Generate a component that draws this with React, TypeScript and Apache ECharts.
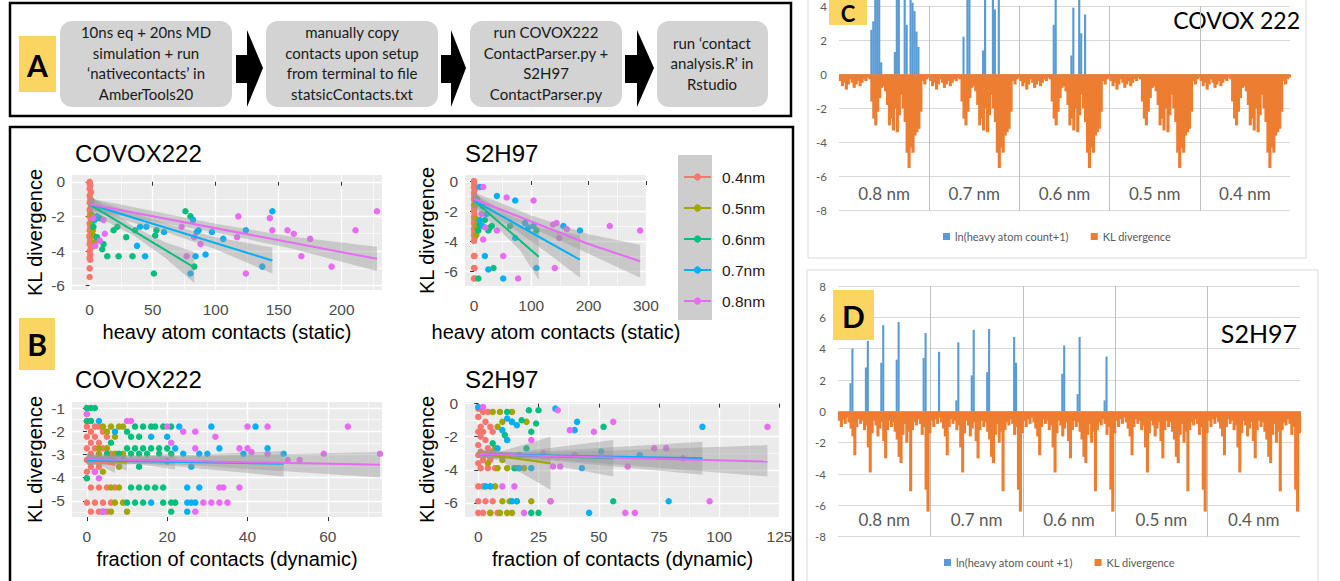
import { useEffect, useRef } from 'react';
import * as echarts from 'echarts';

// ---------------- Panel B data (ggplot scatter + lm fits) ----------------
const GROUPS = ['0.4nm', '0.5nm', '0.6nm', '0.7nm', '0.8nm'];
const GROUP_COLORS = ['#F8766D', '#A3A500', '#00BF7D', '#00B0F6', '#E76BF3'];

// COVOX222, heavy atom contacts (static) vs KL divergence
const cs04 = [[0,0],[0.5,-0.2],[0,-0.4],[1,-0.6],[0,-0.8],[0.5,-1.0],[0,-1.2],[1,-1.4],[0,-1.6],[0.5,-1.8],[0,-2.0],[1,-2.2],[0,-2.4],[0.5,-2.6],[0,-2.8],[1,-3.0],[0,-3.2],[0.5,-3.4],[0,-3.6],[1,-3.8],[0,-4.0],[0.5,-4.2],[0,-4.4],[0.5,-4.5],[0,-5.0],[0,-5.5],[1.5,-1.1],[1.5,-2.9],[0,-0.1],[0,-3.1]];
const cs05 = [[2,-2.4],[3,-3.1],[1.5,-1.9],[4,-3.5],[2.5,-2.8]];
const cs06 = [[5.8,-3.2],[8,-2.1],[11,-3.6],[14,-4.3],[19,-2.8],[22,-2.6],[23,-4.3],[29,-3.2],[34,-4.3],[36,-2.8],[51,-5.3],[52,-3.1],[53,-2.8],[76,-1.7],[80,-2.0],[83,-4.9],[3,-2.6],[10,-3.9]];
const cs07 = [[5.8,-2.0],[4,-2.2],[37.6,-3.7],[40,-2.6],[44,-4.3],[45,-2.6],[59,-2.9],[84,-4.3],[80,-5.3],[85,-2.9],[86.5,-2.8],[92,-4.2],[97,-2.9],[106,-3.3],[124,-2.8],[137,-4.9],[145,-1.7],[82,-2.2]];
const cs08 = [[3,-2.1],[4.5,-3.7],[12,-3.0],[11,-2.2],[8,-3.4],[73,-2.6],[77,-4.3],[83,-3.2],[88,-3.6],[118,-2.0],[117,-3.2],[124,-5.3],[143,-2.1],[145,-2.8],[157,-2.8],[162,-3.0],[168,-4.3],[175,-3.3],[192,-4.9],[211,-2.8],[228,-1.7]];
const csFit06 = [[0,-1.3],[83,-4.95]];
const csFit07 = [[0,-1.3],[145,-4.55]];
const csFit08 = [[0,-1.3],[228,-4.45]];
// confidence bands: [x, lower, upper]
const csBand06 = [[0,-1.8,-0.8],[35,-3.1,-2.6],[60,-4.4,-3.5],[83,-5.85,-4.05]];
const csBand07 = [[0,-1.65,-0.95],[60,-2.9,-2.4],[100,-3.9,-3.2],[145,-5.3,-3.8]];
const csBand08 = [[0,-1.65,-0.95],[100,-2.93,-2.43],[160,-3.86,-3.16],[228,-5.15,-3.75]];

// S2H97, static
const ss04 = [[0,0],[0.5,-0.2],[0,-0.4],[1,-0.6],[0,-0.8],[0.5,-1.0],[0,-1.2],[1,-1.4],[0,-1.6],[0.5,-1.8],[0,-2.0],[1,-2.2],[0,-2.4],[0.5,-2.6],[0,-2.8],[1,-3.0],[0,-3.2],[0.5,-3.4],[0,-3.6],[1,-3.8],[0,-4.0],[0,-5.0],[1,-5.0],[0,-5.8],[1,-5.8],[0,-6.5],[1,-6.5]];
const ss05 = [[3,-2.5],[5,-3.1],[2,-1.6],[4,-3.6],[6,-2.9]];
const ss06 = [[7.6,-3.3],[19,-2.6],[25,-3.3],[31,-3.0],[34,-5.8],[7.6,-6.5],[63,-3.0],[109,-3.3],[16,-1.7],[10,-2.9],[28,-3.1],[5,-1.2]];
const ss07 = [[10,-0.4],[40,-1.0],[72,-1.3],[19,-5.0],[25,-5.9],[51,-6.5],[72,-3.8],[89,-2.8],[104,-3.0],[109,-5.8],[156,-3.0],[185,-3.3],[10,-2.6],[22,-2.2],[15,-3.0],[95,-3.1]];
const ss08 = [[16,-0.4],[57,-1.1],[104,-1.3],[16,-3.9],[51,-5.0],[77,-6.5],[141,-5.8],[138,-2.9],[144,-2.8],[149,-3.8],[162,-3.2],[237,-3.0],[290,-3.3],[13,-2.2],[40,-3.3],[20,-3.1]];
const ssFit06 = [[0,-1.3],[113,-5.05]];
const ssFit07 = [[0,-1.3],[185,-5.25]];
const ssFit08 = [[0,-1.2],[100,-2.7],[200,-4.2],[290,-5.35]];
const ssBand06 = [[0,-1.9,-0.7],[40,-3.1,-2.2],[80,-4.6,-3.0],[113,-6.6,-3.5]];
const ssBand07 = [[0,-1.8,-0.8],[60,-2.93,-2.23],[120,-4.56,-3.16],[185,-6.45,-3.6]];
const ssBand08 = [[0,-1.65,-0.75],[100,-3.1,-2.3],[200,-4.85,-3.55],[290,-6.45,-4.25]];

// COVOX222, fraction of contacts (dynamic)
const cd04 = [[0,-1.56],[1,-1.56],[2,-1.8],[0,-1.8],[3,-1.8],[1,-2.02],[4,-2.02],[0,-2.24],[2,-2.24],[5,-2.24],[1,-2.5],[3,-2.5],[0,-2.74],[2,-2.74],[4,-2.74],[1,-2.97],[3,-2.97],[6,-2.97],[0,-3.24],[2,-3.24],[4,-3.24],[1,-3.53],[3,-3.53],[0,-3.75],[2,-3.75],[0,-4.03],[1,-4.43],[3,-4.43],[5,-4.43],[7,-4.43],[0,-5.08],[2,-5.08],[4,-5.08],[6,-5.08],[1,-5.47],[3,-5.47],[5,-5.47],[0,-1.26],[0,-1.0]];
const cd05 = [[4,-1.8],[6,-1.8],[8,-1.8],[9,-1.8],[5,-2.02],[7,-2.24],[3,-2.74],[5,-2.74],[7,-2.97],[9,-2.97],[6,-3.24],[8,-3.53],[4,-3.75],[6,-4.43],[8,-4.43],[7,-5.08],[9,-5.08],[6,-5.47],[10,-5.47],[3,-3.0]];
const cd06 = [[0,-1.0],[1,-1.0],[2,-1.0],[0,-1.56],[1,-1.56],[12,-1.8],[14,-1.8],[16,-1.8],[17,-1.8],[19,-1.8],[21,-1.8],[10,-2.02],[11,-2.24],[13,-2.24],[6,-2.5],[10,-2.74],[12,-2.74],[14,-2.74],[16,-2.74],[18,-2.74],[20,-2.74],[5,-2.97],[8,-2.97],[11,-2.97],[13,-2.97],[15,-2.97],[18,-2.97],[21,-2.97],[9,-3.24],[13,-3.53],[0,-4.03],[11,-4.43],[13,-4.43],[15,-4.43],[17,-4.43],[19,-4.43],[10,-5.08],[12,-5.08],[14,-5.08],[19,-5.08],[21,-5.08],[21,-5.47],[22,-5.08]];
const cd07 = [[3,-1.56],[23,-1.8],[31,-1.8],[42,-1.8],[7,-2.02],[16,-2.24],[20,-2.24],[22,-2.74],[24,-2.97],[28,-2.97],[30,-2.97],[33,-2.74],[39,-2.97],[49,-2.97],[45,-2.74],[20,-3.3],[26,-3.53],[25,-4.43],[28,-4.43],[16,-5.08],[25,-5.08],[26,-5.08],[27,-5.08],[25,-5.47],[4,-5.47]];
const cd08 = [[0,-1.26],[10,-1.56],[11,-1.56],[40,-1.8],[45,-1.8],[65,-1.8],[20,-1.8],[24,-2.02],[27,-2.02],[32,-2.24],[21,-2.5],[27,-2.74],[38,-2.74],[40,-2.74],[45,-2.97],[59,-2.97],[73,-2.97],[50,-3.24],[53,-3.24],[41,-2.9],[33,-4.43],[34,-4.43],[38,-4.43],[29,-5.08],[31,-5.08],[33,-5.08],[35,-5.08],[27,-5.47],[2,-3.75],[3,-4.03],[4,-5.47]];
const cdFit04 = [[0,-3.25],[7,-3.45]];
const cdFit05 = [[0,-3.2],[10,-3.35]];
const cdFit06 = [[0,-3.2],[22,-3.3]];
const cdFit07 = [[0,-3.25],[49,-3.4]];
const cdFit08 = [[0,-3.2],[73,-3.45]];
const cdBand04 = [[0,-3.45,-3.05],[3,-3.45,-3.15],[7,-3.8,-3.1]];
const cdBand05 = [[0,-3.4,-3.0],[5,-3.4,-3.1],[10,-3.7,-3.0]];
const cdBand06 = [[0,-3.4,-3.0],[10,-3.35,-3.1],[22,-3.65,-2.95]];
const cdBand07 = [[0,-3.45,-3.05],[15,-3.4,-3.1],[49,-3.95,-2.85]];
const cdBand08 = [[0,-3.45,-2.95],[20,-3.4,-3.1],[73,-4.0,-2.9]];

// S2H97, dynamic
const sd04 = [[0,-0.3],[1,-0.3],[2,-0.5],[4,-0.5],[0,-0.8],[3,-1.1],[1,-1.4],[5,-1.4],[0,-1.7],[2,-1.7],[6,-1.7],[1,-2.0],[3,-2.2],[0,-2.5],[4,-2.7],[1,-2.9],[6,-2.9],[0,-3.1],[3,-3.1],[2,-3.4],[5,-3.4],[0,-3.6],[1,-3.9],[4,-3.9],[7,-3.9],[0,-5.0],[2,-5.0],[0,-5.9],[3,-5.9],[6,-5.9],[0,-6.6],[2,-6.6],[5,-6.6],[8,-6.6]];
const sd05 = [[6,-0.5],[9,-0.5],[14,-0.5],[10,-1.1],[20,-1.1],[8,-1.4],[12,-2.2],[7,-2.7],[9,-3.1],[10,-3.4],[8,-3.9],[12,-3.9],[16,-3.9],[19,-3.9],[10,-5.9],[13,-5.9],[16,-5.9],[22,-5.9],[30,-5.9],[5,-6.6],[9,-6.6],[12,-6.6],[14,-6.6],[7,-5.0],[4,-3.6]];
const sd06 = [[12,-0.5],[21,-0.4],[25,-0.4],[18,-1.0],[24,-1.2],[22,-1.7],[14,-1.1],[52,-1.4],[17,-3.1],[6,-2.4],[15,-3.9],[56,-5.9],[22,-6.6],[25,-6.6],[20,-2.7],[11,-1.9]];
const sd07 = [[0,-0.2],[32,-0.3],[12,-0.9],[14,-1.1],[16,-1.3],[41,-1.1],[40,-1.6],[93,-1.4],[12,-2.2],[17,-3.9],[22,-3.9],[43,-3.9],[51,-2.9],[67,-3.1],[79,-5.9],[46,-6.6],[14,-5.9],[16,-5.9],[3,-5.0],[5,-5.0],[10,-1.6],[8,-2.7]];
const sd08 = [[33,-0.4],[56,-1.1],[48,-1.7],[38,-1.6],[120,-1.4],[73,-2.7],[78,-2.7],[85,-3.3],[31,-3.8],[62,-3.8],[30,-5.9],[96,-5.9],[61,-6.6],[65,-6.6],[10,-5.0],[15,-5.0],[22,-2.2],[40,-3.1],[19,-6.6],[2,-0.2],[34,-3.8],[27,-3.0]];
const sdFit04 = [[0,-3.0],[8,-3.1]];
const sdFit05 = [[0,-3.0],[30,-3.6]];
const sdFit06 = [[0,-3.05],[56,-3.3]];
const sdFit07 = [[0,-3.05],[93,-3.3]];
const sdFit08 = [[0,-3.05],[120,-3.5]];
const sdBand04 = [[0,-3.2,-2.8],[8,-3.4,-2.8]];
const sdBand05 = [[0,-3.25,-2.75],[8,-3.35,-2.95],[30,-5.2,-2.0]];
const sdBand06 = [[0,-3.25,-2.85],[15,-3.3,-2.95],[56,-4.4,-2.2]];
const sdBand07 = [[0,-3.25,-2.85],[20,-3.3,-2.95],[93,-4.3,-2.3]];
const sdBand08 = [[0,-3.25,-2.85],[25,-3.3,-3.0],[120,-4.4,-2.5]];

// ---------------- Panels C & D data (per-residue bars) ----------------
const SEG_LABELS = ['0.8 nm', '0.7 nm', '0.6 nm', '0.5 nm', '0.4 nm'];
// KL divergence per residue (same residues repeated for each cutoff segment)
const covoxKL = [-0.4,-0.7,-0.5,-0.9,-0.6,-0.3,-0.5,-0.8,-0.6,-0.4,-0.7,-0.5,-0.3,-0.4,-0.2,
  -0.3,-1.6,-2.6,-3.0,-2.2,-1.4,-0.8,-0.7,-1.0,
  -1.8,-3.0,-2.6,-3.3,-2.0,-3.4,-2.4,-1.2,
  -2.0,-2.8,-4.6,-5.5,-4.3,-4.6,-3.6,-3.4,-3.2,-2.2,
  -0.4,-0.6,-0.3,-0.2];
// ln(heavy atom count+1): [residue index, value], zero elsewhere
const covoxHeavy08 = [[16,2.6],[17,3.1],[18,4.8],[19,5.0],[20,4.5],[21,0.7],[28,1.3],[29,4.6],[30,5.0],[33,4.4],[34,2.9],[36,4.7],[37,4.2],[38,3.7],[39,2.5],[40,1.6]];
const covoxHeavy07 = [[17,2.2],[19,4.8],[20,4.5],[27,1.4],[28,4.6],[32,4.5],[33,3.8],[35,4.6]];
const covoxHeavy06 = [[17,2.9],[18,4.6],[26,1.1],[27,3.9],[30,4.8],[31,2.4],[33,3.5]];
const covoxHeavy05: number[][] = [];
const covoxHeavy04: number[][] = [];

const s2h97KL = [-0.6,-1.0,-0.5,-0.8,-0.4,-0.7,-1.1,-1.6,-2.8,-1.0,-0.5,-0.8,-0.6,-1.2,-0.9,-2.3,
  -3.9,-1.4,-0.6,-0.9,-1.6,-1.1,-0.7,-1.9,-3.0,-1.2,-0.6,-1.0,-0.7,-1.3,-1.8,-2.9,
  -3.3,-1.5,-0.8,-2.0,-1.3,-5.1,-1.2,-0.7,-0.9,-0.5,-0.8,-1.5,-1.0,-5.0,-6.4,-1.4];
const s2h97Heavy08 = [[6,1.8],[7,4.0],[14,2.8],[15,4.5],[22,3.1],[23,5.5],[30,3.3],[31,5.7],[44,3.4],[45,5.0]];
const s2h97Heavy07 = [[4,3.8],[13,0.7],[14,4.4],[21,2.3],[22,5.2],[29,2.5],[30,5.25],[43,4.75],[44,3.1]];
const s2h97Heavy06 = [[20,2.4],[21,4.2],[28,1.1],[29,4.75],[42,0.7],[43,3.5]];
const s2h97Heavy05: number[][] = [];
const s2h97Heavy04: number[][] = [];

// ---------------- styling ----------------
const fontR = "'Liberation Sans', Arial, sans-serif";
const fontX = "Lato, 'Open Sans', sans-serif";
const BLUE = '#5B9BD5';
const ORANGE = '#ED7D31';
const YELLOW = '#FAD562';

const SUBPLOTS: any[] = [
  { title: 'COVOX222', left: 72, top: 175, width: 310, height: 115, xMin: -14, xMax: 232,
    xMajor: [0, 50, 100, 150, 200], xMinor: [25, 75, 125, 175, 225], yMin: -6.25, yMax: 0.39,
    yMajor: [-6, -4, -2, 0], yMinor: [-5, -3, -1], xName: 'heavy atom contacts (static)', xGap: 32, yGap: 27,
    pts: [cs04, cs05, cs06, cs07, cs08], fits: [null, null, csFit06, csFit07, csFit08], bands: [null, null, csBand06, csBand07, csBand08] },
  { title: 'S2H97', left: 465, top: 175, width: 182, height: 111, xMin: -15.7, xMax: 302,
    xMajor: [0, 100, 200, 300], xMinor: [50, 150, 250], yMin: -7.0, yMax: 0.4,
    yMajor: [-6, -4, -2, 0], yMinor: [-7, -5, -3, -1], xName: 'heavy atom contacts (static)', xGap: 36, yGap: 28,
    pts: [ss04, ss05, ss06, ss07, ss08], fits: [null, null, ssFit06, ssFit07, ssFit08], bands: [null, null, ssBand06, ssBand07, ssBand08] },
  { title: 'COVOX222', left: 72, top: 402, width: 310, height: 115, xMin: -3.7, xMax: 73.5,
    xMajor: [0, 20, 40, 60], xMinor: [10, 30, 50, 70], yMin: -5.7, yMax: -0.74,
    yMajor: [-5, -4, -3, -2, -1], yMinor: [-5.5, -4.5, -3.5, -2.5, -1.5], xName: 'fraction of contacts (dynamic)', xGap: 32, yGap: 27,
    pts: [cd04, cd05, cd06, cd07, cd08], fits: [cdFit04, cdFit05, cdFit06, cdFit07, cdFit08], bands: [cdBand04, cdBand05, cdBand06, cdBand07, cdBand08] },
  { title: 'S2H97', left: 465, top: 402, width: 315, height: 115, xMin: -5.5, xMax: 125.2,
    xMajor: [0, 25, 50, 75, 100, 125], xMinor: [12.5, 37.5, 62.5, 87.5, 112.5], yMin: -6.85, yMax: 0.1,
    yMajor: [-6, -4, -2, 0], yMinor: [-5, -3, -1], xName: 'fraction of contacts (dynamic)', xGap: 32, yGap: 28,
    pts: [sd04, sd05, sd06, sd07, sd08], fits: [sdFit04, sdFit05, sdFit06, sdFit07, sdFit08], bands: [sdBand04, sdBand05, sdBand06, sdBand07, sdBand08] },
];

function buildBars(kl: number[], heavy: number[][][]) {
  const cats: string[] = [];
  const klAll: number[] = [];
  const hvAll: number[] = [];
  SEG_LABELS.forEach((seg, s) => {
    const m = new Map<number, number>();
    heavy[s].forEach(([i, v]) => m.set(i, v));
    kl.forEach((v, i) => {
      cats.push(seg + ' #' + (i + 1));
      klAll.push(v);
      hvAll.push(m.has(i) ? (m.get(i) as number) : 0);
    });
  });
  return { cats, klAll, hvAll };
}

function buildOption() {
  const grids: any[] = [];
  const xAxes: any[] = [];
  const yAxes: any[] = [];
  const lineSeries: any[] = [];
  const bandSeries: any[] = [];
  const scatterSeries: any[] = [];

  SUBPLOTS.forEach((p, g) => {
    grids.push({ left: p.left, top: p.top, width: p.width, height: p.height, show: true, backgroundColor: '#EBEBEB', borderWidth: 0 });
    xAxes.push({
      gridIndex: g, type: 'value', min: p.xMin, max: p.xMax, position: 'bottom',
      axisLine: { show: false },
      axisTick: { show: true, length: 4, lineStyle: { color: '#333333', width: 1 }, customValues: p.xMajor },
      axisLabel: { customValues: p.xMajor, color: '#4D4D4D', fontSize: 15.5, fontFamily: fontR, margin: 11 },
      splitLine: { show: true, lineStyle: { color: '#FFFFFF', width: 1.3 } },
      name: p.xName, nameLocation: 'middle', nameGap: p.xGap,
      nameTextStyle: { fontSize: 20, color: '#000', fontFamily: fontR },
    });
    xAxes.push({
      gridIndex: g, type: 'value', min: p.xMin, max: p.xMax, position: 'top',
      axisLine: { show: false }, axisTick: { show: false, customValues: p.xMinor }, axisLabel: { show: false },
      splitLine: { show: true, lineStyle: { color: '#FFFFFF', width: 0.6 } },
    });
    yAxes.push({
      gridIndex: g, type: 'value', min: p.yMin, max: p.yMax, position: 'left',
      axisLine: { show: false },
      axisTick: { show: true, length: 4, lineStyle: { color: '#333333', width: 1 }, customValues: p.yMajor },
      axisLabel: { customValues: p.yMajor, color: '#4D4D4D', fontSize: 15.5, fontFamily: fontR, margin: 7 },
      splitLine: { show: true, lineStyle: { color: '#FFFFFF', width: 1.3 } },
      name: 'KL divergence', nameLocation: 'middle', nameGap: p.yGap,
      nameTextStyle: { fontSize: 20, color: '#000', fontFamily: fontR },
    });
    yAxes.push({
      gridIndex: g, type: 'value', min: p.yMin, max: p.yMax, position: 'right',
      axisLine: { show: false }, axisTick: { show: false, customValues: p.yMinor }, axisLabel: { show: false },
      splitLine: { show: true, lineStyle: { color: '#FFFFFF', width: 0.6 } },
    });
    const xi = 2 * g;
    const yi = 2 * g;
    GROUPS.forEach((name, k) => {
      const fit = p.fits[k];
      if (fit) {
        lineSeries.push({
          type: 'line', name, xAxisIndex: xi, yAxisIndex: yi, data: fit, showSymbol: false, symbol: 'circle',
          symbolSize: 7, lineStyle: { color: GROUP_COLORS[k], width: 2 }, itemStyle: { color: GROUP_COLORS[k] }, z: 5, silent: true,
        });
      }
      const band = p.bands[k];
      if (band) {
        bandSeries.push({
          type: 'custom', xAxisIndex: xi, yAxisIndex: yi, z: 4, silent: true, data: [band[0]],
          renderItem: (_params: any, api: any) => {
            const upper = band.map((b: number[]) => api.coord([b[0], b[2]]));
            const lower = band.slice().reverse().map((b: number[]) => api.coord([b[0], b[1]]));
            return { type: 'polygon', shape: { points: upper.concat(lower) }, style: { fill: 'rgba(153,153,153,0.42)' } };
          },
        });
      }
      scatterSeries.push({
        type: 'scatter', name, xAxisIndex: xi, yAxisIndex: yi, data: p.pts[k], symbolSize: 6.5,
        itemStyle: { color: GROUP_COLORS[k], opacity: 1 }, z: 3, silent: true,
      });
    });
  });

  // line series from the dynamic plots first so the legend picks line+dot icons
  lineSeries.sort((a, b) => (b.xAxisIndex >= 4 ? 1 : 0) - (a.xAxisIndex >= 4 ? 1 : 0));

  // Panel C and D
  const cBars = buildBars(covoxKL, [covoxHeavy08, covoxHeavy07, covoxHeavy06, covoxHeavy05, covoxHeavy04]);
  const dBars = buildBars(s2h97KL, [s2h97Heavy08, s2h97Heavy07, s2h97Heavy06, s2h97Heavy05, s2h97Heavy04]);

  grids.push({ left: 839, top: 1.2, width: 451, height: 209.5, show: false });
  grids.push({ left: 838, top: 286, width: 462, height: 250.7, show: false });

  const segAxis = (gridIndex: number) => ({
    gridIndex, type: 'category', data: SEG_LABELS, position: 'bottom', boundaryGap: true,
    axisLine: { show: false }, axisTick: { show: false },
    axisLabel: { inside: true, margin: 9, fontSize: 17, color: '#595959', fontFamily: fontX },
    splitLine: { show: true, interval: 0, showMinLine: false, showMaxLine: false, lineStyle: { color: '#BFBFBF', width: 1 } },
  });
  const valAxis = (gridIndex: number, max: number) => ({
    gridIndex, type: 'value', min: -8, max, interval: 2,
    axisLine: { show: false }, axisTick: { show: false },
    axisLabel: { color: '#595959', fontSize: 11.5, fontFamily: fontX, margin: 12 },
    splitLine: { show: true, lineStyle: { color: '#D9D9D9', width: 1 } },
  });
  xAxes.push({ gridIndex: 4, type: 'category', data: cBars.cats, position: 'top', show: false }); // 8
  xAxes.push(segAxis(4)); // 9
  xAxes.push({ gridIndex: 5, type: 'category', data: dBars.cats, position: 'top', show: false }); // 10
  xAxes.push(segAxis(5)); // 11
  yAxes.push(valAxis(4, 4)); // 8
  yAxes.push(valAxis(5, 8)); // 9

  const barBase = { type: 'bar', barWidth: '160%', barGap: '-100%', barCategoryGap: '0%', clip: false, silent: true };
  const barSeries = [
    { ...barBase, name: 'KL divergence', xAxisIndex: 8, yAxisIndex: 8, data: cBars.klAll, itemStyle: { color: ORANGE } },
    { ...barBase, name: 'ln(heavy atom count+1)', xAxisIndex: 8, yAxisIndex: 8, data: cBars.hvAll, itemStyle: { color: BLUE }, barWidth: '110%' },
    { ...barBase, name: 'KL divergence', xAxisIndex: 10, yAxisIndex: 9, data: dBars.klAll, itemStyle: { color: ORANGE } },
    { ...barBase, name: 'ln(heavy atom count +1)', xAxisIndex: 10, yAxisIndex: 9, data: dBars.hvAll, itemStyle: { color: BLUE }, barWidth: '110%' },
  ];

  const boxText = { fontSize: 15, fontFamily: fontX, fill: '#1A1A1A', align: 'center', verticalAlign: 'middle', lineHeight: 20.5 };
  const arrow = (x0: number, xs: number, x1: number) => ({
    type: 'polygon', silent: true,
    shape: { points: [[x0, 55], [xs, 55], [xs, 30], [x1, 68], [xs, 107], [xs, 83], [x0, 83]] },
    style: { fill: '#000' },
  });
  const title = (text: string, x: number, y: number) => ({
    type: 'text', x, y, silent: true,
    style: { text, fontSize: 24, fontFamily: fontR, fill: '#000', align: 'left', verticalAlign: 'middle' },
  });
  const letterBox = (letter: string, x: number, y: number, w: number, h: number, tx: number, ty: number, fs = 30) => ([
    { type: 'rect', silent: true, z: 100, shape: { x, y, width: w, height: h }, style: { fill: YELLOW } },
    { type: 'text', x: tx, y: ty, silent: true, z: 101, style: { text: letter, fontSize: fs, lineHeight: fs, fontWeight: 'bold', fontFamily: fontX, fill: '#000', align: 'center', verticalAlign: 'middle' } },
  ]);

  const graphic: any[] = [
    // panel borders
    { type: 'rect', silent: true, shape: { x: 10, y: 3, width: 781, height: 113 }, style: { fill: 'none', stroke: '#000', lineWidth: 2.5 } },
    { type: 'rect', silent: true, shape: { x: 10, y: 127, width: 783, height: 480 }, style: { fill: 'none', stroke: '#000', lineWidth: 2.5 } },
    { type: 'rect', silent: true, shape: { x: 808, y: -6, width: 498, height: 264 }, style: { fill: 'none', stroke: '#D9D9D9', lineWidth: 1 } },
    { type: 'rect', silent: true, shape: { x: 807, y: 270, width: 511, height: 330 }, style: { fill: 'none', stroke: '#D9D9D9', lineWidth: 1 } },
    // panel A flow chart
    ...letterBox('A', 19, 36, 37, 56, 37.5, 65),
    { type: 'rect', silent: true, shape: { x: 60, y: 21, width: 172, height: 86, r: 12 }, style: { fill: '#D3D3D3' } },
    { type: 'text', x: 146, y: 63, silent: true, style: { ...boxText, text: '10ns eq + 20ns MD\nsimulation + run\n\u2018nativecontacts\u2019 in\nAmberTools20' } },
    arrow(236, 247, 263),
    { type: 'rect', silent: true, shape: { x: 266, y: 21, width: 172, height: 86, r: 12 }, style: { fill: '#D3D3D3' } },
    { type: 'text', x: 352, y: 63, silent: true, style: { ...boxText, text: 'manually copy\ncontacts upon setup\nfrom terminal to file\nstatsicContacts.txt' } },
    arrow(441, 451, 466),
    { type: 'rect', silent: true, shape: { x: 470, y: 21, width: 152, height: 86, r: 12 }, style: { fill: '#D3D3D3' } },
    { type: 'text', x: 546, y: 63, silent: true, style: { ...boxText, text: 'run COVOX222\nContactParser.py +\nS2H97\nContactParser.py' } },
    arrow(625, 637, 654),
    { type: 'rect', silent: true, shape: { x: 657, y: 21, width: 111, height: 86, r: 12 }, style: { fill: '#D3D3D3' } },
    { type: 'text', x: 712, y: 63, silent: true, style: { ...boxText, text: 'run \u2018contact\nanalysis.R\u2019 in\nRstudio' } },
    // panel B
    ...letterBox('B', 19, 318, 36, 52, 37, 344),
    title('COVOX222', 75, 153),
    title('S2H97', 465, 153),
    title('COVOX222', 75, 379),
    title('S2H97', 465, 379),
    { type: 'rect', silent: true, z: -1, shape: { x: 678, y: 155, width: 34, height: 165 }, style: { fill: '#CDCDCD' } },
    // panels C and D
    ...letterBox('C', 829, -12, 38, 37, 848, 13, 22),
    { type: 'text', x: 1300, y: 20, silent: true, style: { text: 'COVOX 222', fontSize: 23, fontFamily: fontX, fill: '#000', align: 'right', verticalAlign: 'middle' } },
    ...letterBox('D', 833, 290, 41, 50, 853.5, 316),
    { type: 'text', x: 1297, y: 333, silent: true, style: { text: 'S2H97', fontSize: 25, fontFamily: fontX, fill: '#000', align: 'right', verticalAlign: 'middle' } },
  ];

  return {
    animation: false,
    backgroundColor: '#FFFFFF',
    grid: grids,
    xAxis: xAxes,
    yAxis: yAxes,
    legend: [
      {
        data: GROUPS, orient: 'vertical', left: 683, top: 169, padding: 0, itemWidth: 27, itemHeight: 9, itemGap: 15,
        selectedMode: false, textStyle: { fontSize: 15.5, color: '#1A1A1A', fontFamily: fontR, padding: [0, 0, 0, 6] },
      },
      {
        data: ['ln(heavy atom count+1)', 'KL divergence'], left: 943, top: 231, padding: 0, itemWidth: 7, itemHeight: 7, itemGap: 22,
        icon: 'rect', selectedMode: false, textStyle: { fontSize: 11, color: '#595959', fontFamily: fontX },
      },
      {
        data: ['ln(heavy atom count +1)', 'KL divergence'], left: 944, top: 557, padding: 0, itemWidth: 7, itemHeight: 7, itemGap: 22,
        icon: 'rect', selectedMode: false, textStyle: { fontSize: 11, color: '#595959', fontFamily: fontX },
      },
    ],
    graphic,
    series: [...lineSeries, ...bandSeries, ...scatterSeries, ...barSeries],
  };
}

export default function App() {
  const ref = useRef<HTMLDivElement>(null);
  useEffect(() => {
    if (!ref.current) return;
    const chart = echarts.init(ref.current, undefined, { renderer: 'svg' });
    chart.setOption(buildOption() as any);
    return () => chart.dispose();
  }, []);
  return (
    <div style={{ position: 'absolute', left: 0, top: 0, width: 1340, height: 581, background: '#fff' }}>
      <div ref={ref} style={{ width: 1340, height: 581 }} />
    </div>
  );
}
